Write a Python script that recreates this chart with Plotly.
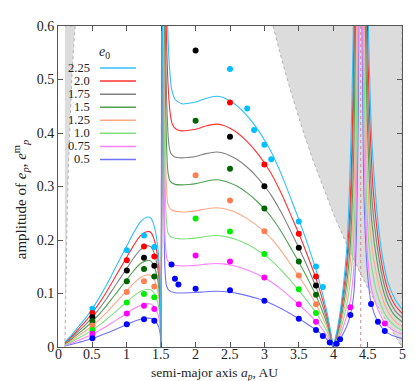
import plotly.graph_objects as go

E0_LABELS = ["2.25", "2.0", "1.75", "1.5", "1.25", "1.0", "0.75", "0.5"]
LINE_COLORS = ["#30c0ff", "#ff3030", "#808080", "#50a050", "#ffa888", "#80e080", "#ff80ff", "#7070ff"]

# left hump (shared a grid)
HUMP_A = [0.1, 0.2, 0.3, 0.4, 0.5, 0.6, 0.7, 0.8, 0.9, 1.0, 1.1, 1.2, 1.3, 1.35, 1.4, 1.45, 1.48, 1.5]
HUMP_V = [
    [0.009, 0.0225, 0.0383, 0.054, 0.072, 0.0923, 0.1148, 0.1395, 0.1643, 0.189, 0.2138, 0.234, 0.243, 0.2408, 0.225, 0.1868, 0.1305, 0],
    [0.008, 0.02, 0.034, 0.048, 0.064, 0.082, 0.102, 0.124, 0.146, 0.168, 0.19, 0.208, 0.216, 0.214, 0.2, 0.166, 0.116, 0],
    [0.007, 0.0175, 0.0298, 0.042, 0.056, 0.0718, 0.0893, 0.1085, 0.1278, 0.147, 0.1663, 0.182, 0.189, 0.1873, 0.175, 0.1453, 0.1015, 0],
    [0.006, 0.015, 0.0255, 0.036, 0.048, 0.0615, 0.0765, 0.093, 0.1095, 0.126, 0.1425, 0.156, 0.162, 0.1605, 0.15, 0.1245, 0.087, 0],
    [0.005, 0.0125, 0.0213, 0.03, 0.04, 0.0513, 0.0638, 0.0775, 0.0913, 0.105, 0.1188, 0.13, 0.135, 0.1338, 0.125, 0.1038, 0.0725, 0],
    [0.004, 0.01, 0.017, 0.024, 0.032, 0.041, 0.051, 0.062, 0.073, 0.084, 0.095, 0.104, 0.108, 0.107, 0.1, 0.083, 0.058, 0],
    [0.003, 0.0075, 0.0128, 0.018, 0.024, 0.0308, 0.0383, 0.0465, 0.0548, 0.063, 0.0713, 0.078, 0.081, 0.0803, 0.075, 0.0623, 0.0435, 0],
    [0.002, 0.005, 0.0085, 0.012, 0.016, 0.0205, 0.0255, 0.031, 0.0365, 0.042, 0.0475, 0.052, 0.054, 0.0535, 0.05, 0.0415, 0.029, 0],
]
# near-vertical rise after the zero at 1.5
RISE_TOP_A = [1.52, 1.518, 1.516, 1.514, 1.512, 1.51, 1.508, 1.506]
RISE_TOP_V = 0.66

# descent from the 1.5 resonance
DESC_A = [
    [1.585, 1.6, 1.625, 1.65, 1.7],
    [1.565, 1.58, 1.6, 1.625, 1.66, 1.72],
    [1.55, 1.565, 1.585, 1.61, 1.64, 1.7],
    [1.545, 1.56, 1.58, 1.6, 1.63, 1.7],
    [1.54, 1.555, 1.575, 1.6, 1.65],
    [1.535, 1.55, 1.57, 1.6, 1.65],
    [1.532, 1.545, 1.56, 1.59, 1.65],
    [1.53, 1.54, 1.555, 1.58, 1.62, 1.7],
]
DESC_V = [
    [0.66, 0.575, 0.515, 0.483, 0.463],
    [0.66, 0.56, 0.49, 0.443, 0.417, 0.407],
    [0.66, 0.55, 0.44, 0.38, 0.362, 0.355],
    [0.66, 0.49, 0.37, 0.325, 0.31, 0.304],
    [0.66, 0.43, 0.305, 0.266, 0.256],
    [0.66, 0.37, 0.25, 0.213, 0.205],
    [0.66, 0.31, 0.195, 0.162, 0.154],
    [0.66, 0.26, 0.145, 0.113, 0.105, 0.1015],
]

# plateau and decline to the zero at 4.0 (shared a grid)
PLAT_A = [1.8, 1.9, 2.0, 2.15, 2.3, 2.4, 2.5, 2.6, 2.75, 2.9, 3.0, 3.1, 3.25, 3.4, 3.5, 3.6, 3.75, 3.85, 3.92, 4.0]
PLAT_V = [
    [0.4545, 0.4556, 0.4579, 0.4646, 0.4687, 0.4662, 0.4599, 0.4511, 0.432, 0.4073, 0.387, 0.3645, 0.3218, 0.2723, 0.2385, 0.2025, 0.144, 0.0968, 0.0585, 0],
    [0.404, 0.405, 0.407, 0.413, 0.4166, 0.4144, 0.4088, 0.401, 0.384, 0.362, 0.344, 0.324, 0.286, 0.242, 0.212, 0.18, 0.128, 0.086, 0.052, 0],
    [0.3535, 0.3544, 0.3561, 0.3614, 0.3645, 0.3626, 0.3577, 0.3509, 0.336, 0.3168, 0.301, 0.2835, 0.2503, 0.2118, 0.1855, 0.1575, 0.112, 0.0753, 0.0455, 0],
    [0.303, 0.3038, 0.3053, 0.3098, 0.3125, 0.3108, 0.3066, 0.3008, 0.288, 0.2715, 0.258, 0.243, 0.2145, 0.1815, 0.159, 0.135, 0.096, 0.0645, 0.039, 0],
    [0.2525, 0.2531, 0.2544, 0.2581, 0.2604, 0.259, 0.2555, 0.2506, 0.24, 0.2263, 0.215, 0.2025, 0.1788, 0.1513, 0.1325, 0.1125, 0.08, 0.0538, 0.0325, 0],
    [0.202, 0.2025, 0.2035, 0.2065, 0.2083, 0.2072, 0.2044, 0.2005, 0.192, 0.181, 0.172, 0.162, 0.143, 0.121, 0.106, 0.09, 0.064, 0.043, 0.026, 0],
    [0.1515, 0.1519, 0.1526, 0.1549, 0.1562, 0.1554, 0.1533, 0.1504, 0.144, 0.1358, 0.129, 0.1215, 0.1073, 0.0908, 0.0795, 0.0675, 0.048, 0.0323, 0.0195, 0],
    [0.101, 0.1013, 0.1018, 0.1033, 0.1042, 0.1036, 0.1022, 0.1003, 0.096, 0.0905, 0.086, 0.081, 0.0715, 0.0605, 0.053, 0.045, 0.032, 0.0215, 0.013, 0],
]

# left flank of the 4.4 spike
LF_A = [
    [4.0, 4.05, 4.1, 4.15, 4.2, 4.24, 4.27, 4.29, 4.30],
    [4.0, 4.05, 4.1, 4.15, 4.2, 4.25, 4.28, 4.30, 4.31],
    [4.0, 4.05, 4.1, 4.15, 4.2, 4.25, 4.29, 4.31, 4.32],
    [4.0, 4.05, 4.1, 4.15, 4.2, 4.25, 4.29, 4.31, 4.325, 4.333],
    [4.0, 4.05, 4.1, 4.15, 4.2, 4.25, 4.3, 4.32, 4.335, 4.342],
    [4.0, 4.05, 4.1, 4.15, 4.2, 4.25, 4.3, 4.33, 4.345, 4.352],
    [4.0, 4.05, 4.1, 4.15, 4.2, 4.25, 4.3, 4.33, 4.35, 4.36, 4.365],
    [4.0, 4.05, 4.1, 4.15, 4.2, 4.25, 4.3, 4.33, 4.35, 4.365, 4.375],
]
LF_V = [
    [0, 0.027, 0.065, 0.117, 0.19, 0.31, 0.45, 0.58, 0.66],
    [0, 0.024, 0.058, 0.104, 0.165, 0.28, 0.42, 0.58, 0.66],
    [0, 0.021, 0.051, 0.091, 0.145, 0.24, 0.42, 0.58, 0.66],
    [0, 0.018, 0.044, 0.078, 0.122, 0.195, 0.32, 0.45, 0.6, 0.68],
    [0, 0.015, 0.036, 0.065, 0.10, 0.16, 0.28, 0.4, 0.58, 0.68],
    [0, 0.012, 0.029, 0.052, 0.08, 0.125, 0.21, 0.34, 0.52, 0.66],
    [0, 0.009, 0.022, 0.039, 0.06, 0.088, 0.15, 0.24, 0.40, 0.56, 0.68],
    [0, 0.006, 0.0146, 0.026, 0.04, 0.06, 0.10, 0.18, 0.30, 0.45, 0.64],
]
# right flank of the 4.4 spike
RF_A = [
    [4.505, 4.515, 4.535, 4.56, 4.6, 4.65, 4.7, 4.75, 4.8, 4.9, 5.0],
    [4.49, 4.5, 4.52, 4.545, 4.58, 4.65, 4.7, 4.75, 4.8, 4.9, 5.0],
    [4.475, 4.485, 4.505, 4.53, 4.57, 4.65, 4.7, 4.75, 4.8, 4.9, 5.0],
    [4.46, 4.47, 4.49, 4.52, 4.56, 4.65, 4.7, 4.75, 4.8, 4.9, 5.0],
    [4.45, 4.46, 4.475, 4.5, 4.55, 4.65, 4.7, 4.75, 4.8, 4.9, 5.0],
    [4.435, 4.445, 4.46, 4.48, 4.52, 4.6, 4.65, 4.75, 4.8, 4.9, 5.0],
    [4.425, 4.432, 4.445, 4.46, 4.5, 4.555, 4.65, 4.75, 4.85, 5.0],
    [4.415, 4.422, 4.432, 4.45, 4.5, 4.555, 4.65, 4.75, 4.85, 5.0],
]
RF_V = [
    [0.66, 0.58, 0.48, 0.39, 0.31, 0.235, 0.182, 0.146, 0.119, 0.089, 0.071],
    [0.66, 0.58, 0.47, 0.38, 0.295, 0.205, 0.16, 0.128, 0.105, 0.078, 0.063],
    [0.66, 0.58, 0.46, 0.36, 0.265, 0.178, 0.14, 0.112, 0.092, 0.068, 0.055],
    [0.66, 0.58, 0.45, 0.33, 0.235, 0.15, 0.12, 0.096, 0.079, 0.058, 0.047],
    [0.66, 0.56, 0.45, 0.32, 0.2, 0.122, 0.098, 0.079, 0.065, 0.048, 0.039],
    [0.66, 0.56, 0.43, 0.3, 0.19, 0.12, 0.095, 0.062, 0.052, 0.039, 0.031],
    [0.66, 0.56, 0.43, 0.3, 0.17, 0.11, 0.07, 0.045, 0.033, 0.024],
    [0.66, 0.56, 0.43, 0.27, 0.135, 0.08, 0.047, 0.03, 0.022, 0.016],
]

# numerical points
DOT_COLORS = ["#00bfff", "#ff0000", "#000000", "#006400", "#ff7f50", "#00ee00", "#ff00ff", "#0000ff"]
DOT_A = [
    [0.5, 1.0, 1.25, 1.4, 2.5, 2.75, 2.85, 3.0, 3.1, 3.5, 3.75, 3.85],
    [0.5, 1.0, 1.25, 1.4, 2.5, 3.0, 3.5, 3.75],
    [0.5, 1.0, 1.25, 1.4, 2.0, 2.5, 3.0, 3.5, 3.75],
    [0.5, 1.0, 1.25, 1.4, 2.0, 2.5, 3.0, 3.5, 3.75],
    [0.5, 1.0, 1.25, 1.4, 2.0, 2.5, 3.0, 3.5, 3.75],
    [0.5, 1.0, 1.25, 1.4, 2.0, 2.5, 3.0, 3.5, 3.75],
    [0.5, 1.0, 1.25, 1.4, 2.0, 2.5, 3.0, 3.5, 3.75, 4.25, 4.75],
    [0.5, 1.0, 1.25, 1.4, 1.65, 1.7, 1.75, 2.0, 2.5, 3.0, 3.5, 3.75, 3.85, 3.95, 4.05, 4.1, 4.25, 4.55, 4.65, 4.75],
]
DOT_V = [
    [0.0713, 0.181, 0.2085, 0.187, 0.5195, 0.446, 0.4055, 0.378, 0.351, 0.2347, 0.1506, 0.112],
    [0.0634, 0.162, 0.188, 0.169, 0.457, 0.341, 0.2116, 0.132],
    [0.056, 0.143, 0.167, 0.152, 0.554, 0.393, 0.3005, 0.1853, 0.115],
    [0.048, 0.123, 0.146, 0.132, 0.423, 0.333, 0.259, 0.160, 0.0975],
    [0.040, 0.103, 0.123, 0.113, 0.321, 0.274, 0.2165, 0.1335, 0.080],
    [0.032, 0.083, 0.099, 0.093, 0.240, 0.216, 0.174, 0.108, 0.0634],
    [0.025, 0.0628, 0.077, 0.071, 0.171, 0.160, 0.130, 0.080, 0.047, 0.0744, 0.044],
    [0.0165, 0.0427, 0.052, 0.049, 0.154, 0.1275, 0.117, 0.109, 0.106, 0.0866, 0.053, 0.0317, 0.0207, 0.0086, 0.006, 0.0146, 0.060, 0.0805, 0.047, 0.030],
]

# shaded (excluded) regions
LEFT_BOUND_A = [0.1, 0.105, 0.11, 0.12, 0.135, 0.15, 0.175, 0.2, 0.225, 0.25]
LEFT_BOUND_E = [0, 0.048, 0.091, 0.167, 0.259, 0.333, 0.429, 0.5, 0.556, 0.6]
RIGHT_BOUND_A = [3.125, 3.25, 3.4, 3.55, 3.7, 3.85, 4.0, 4.2, 4.4, 4.6, 4.8, 5.0]
RIGHT_BOUND_E = [0.6, 0.5385, 0.4706, 0.4085, 0.3514, 0.2987, 0.25, 0.1905, 0.1364, 0.087, 0.0417, 0.0]
RES_LINE_A = 4.4

X_TICKS = [0, 0.5, 1, 1.5, 2, 2.5, 3, 3.5, 4, 4.5, 5]
X_TICK_TEXT = ["0", "0.5", "1", "1.5", "2", "2.5", "3", "3.5", "4", "4.5", "5"]
Y_TICKS = [0, 0.1, 0.2, 0.3, 0.4, 0.5, 0.6]
Y_TICK_TEXT = ["0", "0.1", "0.2", "0.3", "0.4", "0.5", "0.6"]

FONT = "Liberation Serif"
TEXT_COLOR = "#222"
fig = go.Figure()

# shaded regions
fig.add_trace(go.Scatter(x=LEFT_BOUND_A + [LEFT_BOUND_A[0]], y=LEFT_BOUND_E + [LEFT_BOUND_E[-1]],
                         fill="toself", fillcolor="#dcdcdc", mode="lines",
                         line=dict(color="#b4b4b4", width=1, dash="dot"), hoverinfo="skip", showlegend=False))
fig.add_trace(go.Scatter(x=RIGHT_BOUND_A + [RIGHT_BOUND_A[-1]], y=RIGHT_BOUND_E + [RIGHT_BOUND_E[0]],
                         fill="toself", fillcolor="#dcdcdc", mode="lines",
                         line=dict(color="#b4b4b4", width=1, dash="dot"), hoverinfo="skip", showlegend=False))
fig.add_trace(go.Scatter(x=[RES_LINE_A, RES_LINE_A], y=[0, 0.6], mode="lines",
                         line=dict(color="rgb(205,140,140)", width=1, dash="dot"), hoverinfo="skip", showlegend=False))

for i in reversed(range(len(E0_LABELS))):
    xs = HUMP_A + [None] + [1.5, RISE_TOP_A[i]] + [None] + DESC_A[i] + PLAT_A + [None] + LF_A[i] + [None] + RF_A[i]
    ys = HUMP_V[i] + [None] + [0, RISE_TOP_V] + [None] + DESC_V[i] + PLAT_V[i] + [None] + LF_V[i] + [None] + RF_V[i]
    fig.add_trace(go.Scatter(x=xs, y=ys, mode="lines", connectgaps=False,
                             line=dict(color=LINE_COLORS[i], width=1.1, shape="spline", smoothing=0.8),
                             name=E0_LABELS[i], showlegend=False))

for i in range(len(E0_LABELS)):
    fig.add_trace(go.Scatter(x=DOT_A[i], y=DOT_V[i], mode="markers",
                             marker=dict(color=DOT_COLORS[i], size=6), showlegend=False))

# manual gnuplot-style legend (text left, line sample right)
ROW_PY = [54, 67.3, 80.7, 94, 107.3, 120.7, 134, 147.3]
def px_to_paper_y(py):
    return (339 - py) / 328
def px_to_paper_x(px):
    return (px - 50) / 344
shapes = []
annotations = []
for i, lab in enumerate(E0_LABELS):
    yp = px_to_paper_y(ROW_PY[i])
    shapes.append(dict(type="line", xref="paper", yref="paper", x0=px_to_paper_x(92), x1=px_to_paper_x(128),
                       y0=yp, y1=yp, line=dict(color=LINE_COLORS[i], width=1.5)))
    annotations.append(dict(xref="paper", yref="paper", x=px_to_paper_x(84), y=yp, text=lab, showarrow=False,
                            xanchor="right", yanchor="middle", font=dict(family=FONT, size=12.5, color=TEXT_COLOR)))
annotations.append(dict(xref="paper", yref="paper", x=px_to_paper_x(96), y=px_to_paper_y(38),
                        text="<i>e</i><sub>0</sub>", showarrow=False, xanchor="center", yanchor="middle",
                        font=dict(family=FONT, size=14, color=TEXT_COLOR)))
# x tick labels placed just under the axis (gnuplot-like spacing)
for tv, tt in zip(X_TICKS, X_TICK_TEXT):
    annotations.append(dict(xref="x", yref="paper", x=tv, y=px_to_paper_y(347), text=tt, showarrow=False,
                            xanchor="center", yanchor="middle", font=dict(family=FONT, size=14, color=TEXT_COLOR)))
annotations.append(dict(xref="paper", yref="paper", x=0.456, y=px_to_paper_y(366),
                        text="semi-major axis <i>a<sub>p</sub></i>, AU", showarrow=False,
                        xanchor="center", yanchor="middle", font=dict(family=FONT, size=13.5, color=TEXT_COLOR)))
annotations.append(dict(xref="paper", yref="paper", x=px_to_paper_x(13), y=px_to_paper_y(188),
                        text="amplitude of <i>e<sub>p</sub></i>, <i>e</i><sup>m</sup><sub><i>p</i></sub>",
                        showarrow=False, textangle=-90, xanchor="center", yanchor="middle",
                        font=dict(family=FONT, size=15, color=TEXT_COLOR)))

axis_common = dict(showgrid=False, zeroline=False, showline=True, linecolor="#555", linewidth=1,
                   mirror="ticks", ticks="inside", ticklen=5, tickcolor="#555",
                   tickfont=dict(family=FONT, size=14, color=TEXT_COLOR))
fig.update_layout(
    width=415, height=381,
    margin=dict(l=50, r=21, t=11, b=42),
    paper_bgcolor="white", plot_bgcolor="white",
    showlegend=False,
    xaxis=dict(range=[0, 5], tickvals=X_TICKS, showticklabels=False, **axis_common),
    yaxis=dict(range=[0, 0.6], tickvals=Y_TICKS, ticktext=Y_TICK_TEXT, **axis_common),
    shapes=shapes, annotations=annotations,
)
fig.write_html("out.html")
